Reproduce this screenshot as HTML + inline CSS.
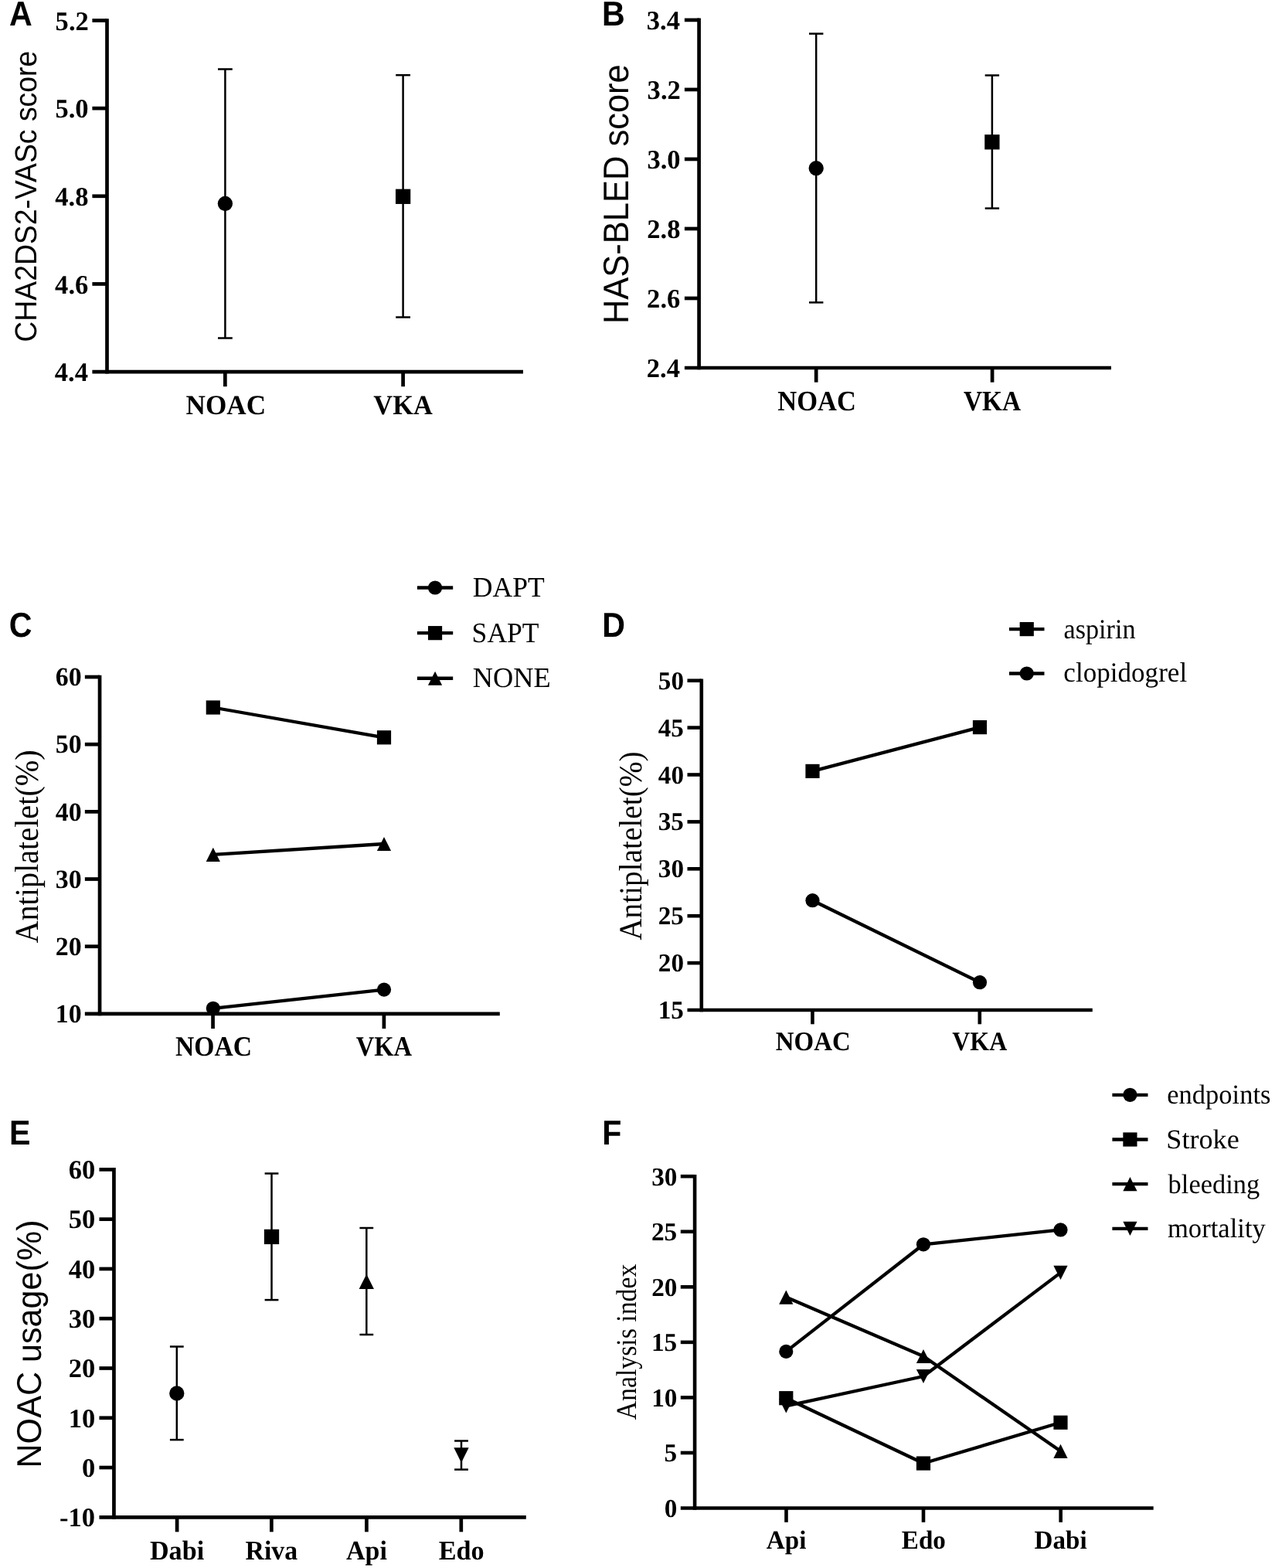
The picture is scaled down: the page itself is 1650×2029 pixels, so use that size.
<!DOCTYPE html>
<html lang="en">
<head>
<meta charset="utf-8">
<title>Figure: NOAC versus VKA scores, antiplatelet use and outcomes</title>
<style>
html,body{margin:0;padding:0;background:#fff;}
body{width:1650px;height:2029px;overflow:hidden;}
svg{display:block;}
text{fill:#000;}
.s{font-family:'Liberation Sans', sans-serif;}
.sb{font-family:'Liberation Sans', sans-serif;font-weight:bold;}
.f{font-family:'Liberation Serif', serif;}
.fb{font-family:'Liberation Serif', serif;font-weight:bold;}
.ax,.er,.ln{stroke:#000;fill:none;}
</style>
</head>
<body>
<svg width="1650" height="2029" viewBox="0 0 1650 2029" fill="#000" text-rendering="geometricPrecision">
<rect x="0" y="0" width="1650" height="2029" fill="#fff"/>
<text class="sb" font-size="44.7" transform="translate(12.11 32.7) scale(0.9220 1)">A</text>
<text class="sb" font-size="44.7" transform="translate(779.1 32.7) scale(0.9220 1)">B</text>
<text class="sb" font-size="44.7" transform="translate(11.7 823.8) scale(0.9220 1)">C</text>
<text class="sb" font-size="44.7" transform="translate(779.35 824) scale(0.9220 1)">D</text>
<text class="sb" font-size="44.7" transform="translate(12.03 1481.05) scale(0.9220 1)">E</text>
<text class="sb" font-size="44.7" transform="translate(779.36 1481.05) scale(0.9220 1)">F</text>
<g class="ax">
<line x1="138.5" y1="24.15" x2="138.5" y2="483.45" stroke-width="4.7"/>
<line x1="119.4" y1="481.1" x2="677" y2="481.1" stroke-width="4.7"/>
<line x1="119.4" y1="26.5" x2="138.5" y2="26.5" stroke-width="4.7"/>
<line x1="119.4" y1="140.15" x2="138.5" y2="140.15" stroke-width="4.7"/>
<line x1="119.4" y1="253.8" x2="138.5" y2="253.8" stroke-width="4.7"/>
<line x1="119.4" y1="367.45" x2="138.5" y2="367.45" stroke-width="4.7"/>
<line x1="291.35" y1="481.1" x2="291.35" y2="500.2" stroke-width="4.7"/>
<line x1="521.6" y1="481.1" x2="521.6" y2="500.2" stroke-width="4.7"/>
</g>
<text class="fb" font-size="34.6" transform="translate(71.61 38.58)">5.2</text>
<text class="fb" font-size="34.6" transform="translate(71.43 152.23)">5.0</text>
<text class="fb" font-size="34.6" transform="translate(71.26 265.88)">4.8</text>
<text class="fb" font-size="34.6" transform="translate(71.09 379.53)">4.6</text>
<text class="fb" font-size="34.6" transform="translate(70.74 493.18)">4.4</text>
<text class="fb" font-size="35.8" transform="translate(240.55 535.9) scale(0.9820 1)">NOAC</text>
<text class="fb" font-size="35.8" transform="translate(483.37 535.9) scale(0.9600 1)">VKA</text>
<g class="er">
<line x1="291.4" y1="89.5" x2="291.4" y2="437.5" stroke-width="2.5"/>
<line x1="282" y1="89.5" x2="300.8" y2="89.5" stroke-width="2.5"/>
<line x1="282" y1="437.5" x2="300.8" y2="437.5" stroke-width="2.5"/>
</g>
<circle cx="291.4" cy="263.5" r="9.65"/>
<g class="er">
<line x1="521.6" y1="97.2" x2="521.6" y2="410.5" stroke-width="2.5"/>
<line x1="512.2" y1="97.2" x2="531" y2="97.2" stroke-width="2.5"/>
<line x1="512.2" y1="410.5" x2="531" y2="410.5" stroke-width="2.5"/>
</g>
<rect x="511.95" y="244.65" width="19.3" height="19.3"/>
<text class="s" font-size="39.5" transform="translate(47.3 442.67) rotate(-90) scale(0.9450 1)">CHA2DS2-VASc score</text>
<g class="ax">
<line x1="904.6" y1="23.55" x2="904.6" y2="478.35" stroke-width="4.7"/>
<line x1="885.9" y1="476" x2="1438" y2="476" stroke-width="4.7"/>
<line x1="885.9" y1="25.9" x2="904.6" y2="25.9" stroke-width="4.7"/>
<line x1="885.9" y1="115.92" x2="904.6" y2="115.92" stroke-width="4.7"/>
<line x1="885.9" y1="205.94" x2="904.6" y2="205.94" stroke-width="4.7"/>
<line x1="885.9" y1="295.96" x2="904.6" y2="295.96" stroke-width="4.7"/>
<line x1="885.9" y1="385.98" x2="904.6" y2="385.98" stroke-width="4.7"/>
<line x1="1056.2" y1="476" x2="1056.2" y2="494.7" stroke-width="4.7"/>
<line x1="1284.1" y1="476" x2="1284.1" y2="494.7" stroke-width="4.7"/>
</g>
<text class="fb" font-size="34.6" transform="translate(836.74 37.73)">3.4</text>
<text class="fb" font-size="34.6" transform="translate(837.61 127.75)">3.2</text>
<text class="fb" font-size="34.6" transform="translate(837.43 217.77)">3.0</text>
<text class="fb" font-size="34.6" transform="translate(837.26 307.79)">2.8</text>
<text class="fb" font-size="34.6" transform="translate(837.09 397.81)">2.6</text>
<text class="fb" font-size="34.6" transform="translate(836.74 487.83)">2.4</text>
<text class="fb" font-size="36.5" transform="translate(1006.36 531.1) scale(0.9450 1)">NOAC</text>
<text class="fb" font-size="36.5" transform="translate(1246.95 531.1) scale(0.9150 1)">VKA</text>
<g class="er">
<line x1="1056.2" y1="43.6" x2="1056.2" y2="391.4" stroke-width="2.5"/>
<line x1="1047" y1="43.6" x2="1065.4" y2="43.6" stroke-width="2.5"/>
<line x1="1047" y1="391.4" x2="1065.4" y2="391.4" stroke-width="2.5"/>
</g>
<circle cx="1056.2" cy="217.7" r="9.65"/>
<g class="er">
<line x1="1283.9" y1="97.5" x2="1283.9" y2="269.6" stroke-width="2.5"/>
<line x1="1274.7" y1="97.5" x2="1293.1" y2="97.5" stroke-width="2.5"/>
<line x1="1274.7" y1="269.6" x2="1293.1" y2="269.6" stroke-width="2.5"/>
</g>
<rect x="1274.25" y="174.15" width="19.3" height="19.3"/>
<text class="s" font-size="46" transform="translate(812.9 419.08) rotate(-90) scale(0.9450 1)">HAS-BLED score</text>
<g class="ax">
<line x1="129.05" y1="873.65" x2="129.05" y2="1314.25" stroke-width="4.7"/>
<line x1="109.85" y1="1311.9" x2="646.8" y2="1311.9" stroke-width="4.7"/>
<line x1="109.85" y1="876" x2="129.05" y2="876" stroke-width="4.7"/>
<line x1="109.85" y1="963.18" x2="129.05" y2="963.18" stroke-width="4.7"/>
<line x1="109.85" y1="1050.36" x2="129.05" y2="1050.36" stroke-width="4.7"/>
<line x1="109.85" y1="1137.54" x2="129.05" y2="1137.54" stroke-width="4.7"/>
<line x1="109.85" y1="1224.72" x2="129.05" y2="1224.72" stroke-width="4.7"/>
<line x1="275.55" y1="1311.9" x2="275.55" y2="1331.1" stroke-width="4.7"/>
<line x1="496.9" y1="1311.9" x2="496.9" y2="1331.1" stroke-width="4.7"/>
</g>
<text class="fb" font-size="33.9" transform="translate(71.86 887.2)">60</text>
<text class="fb" font-size="33.9" transform="translate(71.86 974.38)">50</text>
<text class="fb" font-size="33.9" transform="translate(71.86 1061.56)">40</text>
<text class="fb" font-size="33.9" transform="translate(71.86 1148.74)">30</text>
<text class="fb" font-size="33.9" transform="translate(71.86 1235.92)">20</text>
<text class="fb" font-size="33.9" transform="translate(71.86 1323.1)">10</text>
<text class="fb" font-size="36.2" transform="translate(226.9 1366.1) scale(0.9300 1)">NOAC</text>
<text class="fb" font-size="36.2" transform="translate(460.65 1366.1) scale(0.9000 1)">VKA</text>
<g class="ln">
<line x1="275.8" y1="1105.8" x2="497" y2="1092" stroke-width="4.3"/>
</g>
<polygon points="275.8,1096.7 284.9,1114.9 266.7,1114.9"/>
<polygon points="497,1082.9 506.1,1101.1 487.9,1101.1"/>
<g class="ln">
<line x1="275.8" y1="1304.8" x2="497" y2="1280.6" stroke-width="4.3"/>
</g>
<circle cx="275.8" cy="1304.8" r="9.1"/>
<circle cx="497" cy="1280.6" r="9.1"/>
<g class="ln">
<line x1="275.8" y1="915.5" x2="497" y2="954.3" stroke-width="4.3"/>
</g>
<rect x="266.7" y="906.4" width="18.2" height="18.2"/>
<rect x="487.9" y="945.2" width="18.2" height="18.2"/>
<g class="ln">
<line x1="539.9" y1="760.5" x2="586.2" y2="760.5" stroke-width="4.3"/>
</g>
<circle cx="563.05" cy="760.5" r="9.1"/>
<text class="f" font-size="36.5" transform="translate(611.83 772.4) scale(0.9750 1)">DAPT</text>
<g class="ln">
<line x1="539.9" y1="819.15" x2="586.2" y2="819.15" stroke-width="4.3"/>
</g>
<rect x="553.95" y="810.05" width="18.2" height="18.2"/>
<text class="f" font-size="36.5" transform="translate(610.59 830.8) scale(0.9750 1)">SAPT</text>
<g class="ln">
<line x1="539.9" y1="877.75" x2="586.2" y2="877.75" stroke-width="4.3"/>
</g>
<polygon points="563.05,868.65 572.15,886.85 553.95,886.85"/>
<text class="f" font-size="36.5" transform="translate(611.81 889.4) scale(0.9950 1)">NONE</text>
<text class="f" font-size="43" transform="translate(48.6 1220.6) rotate(-90) scale(0.9360 1)">Antiplatelet(%)</text>
<g class="ax">
<line x1="907.8" y1="878.4" x2="907.8" y2="1309.3" stroke-width="4.6"/>
<line x1="889.5" y1="1307" x2="1413.8" y2="1307" stroke-width="4.6"/>
<line x1="889.5" y1="880.7" x2="907.8" y2="880.7" stroke-width="4.6"/>
<line x1="889.5" y1="941.6" x2="907.8" y2="941.6" stroke-width="4.6"/>
<line x1="889.5" y1="1002.5" x2="907.8" y2="1002.5" stroke-width="4.6"/>
<line x1="889.5" y1="1063.4" x2="907.8" y2="1063.4" stroke-width="4.6"/>
<line x1="889.5" y1="1124.3" x2="907.8" y2="1124.3" stroke-width="4.6"/>
<line x1="889.5" y1="1185.2" x2="907.8" y2="1185.2" stroke-width="4.6"/>
<line x1="889.5" y1="1246.1" x2="907.8" y2="1246.1" stroke-width="4.6"/>
<line x1="1051.45" y1="1307" x2="1051.45" y2="1325.3" stroke-width="4.6"/>
<line x1="1267.8" y1="1307" x2="1267.8" y2="1325.3" stroke-width="4.6"/>
</g>
<text class="fb" font-size="33.2" transform="translate(851.83 891.77)">50</text>
<text class="fb" font-size="33.2" transform="translate(851.66 952.67)">45</text>
<text class="fb" font-size="33.2" transform="translate(851.83 1013.57)">40</text>
<text class="fb" font-size="33.2" transform="translate(851.66 1074.47)">35</text>
<text class="fb" font-size="33.2" transform="translate(851.83 1135.37)">30</text>
<text class="fb" font-size="33.2" transform="translate(851.66 1196.27)">25</text>
<text class="fb" font-size="33.2" transform="translate(851.83 1257.17)">20</text>
<text class="fb" font-size="33.2" transform="translate(851.66 1318.07)">15</text>
<text class="fb" font-size="34.6" transform="translate(1003.85 1359) scale(0.9520 1)">NOAC</text>
<text class="fb" font-size="34.6" transform="translate(1232.31 1359) scale(0.9220 1)">VKA</text>
<g class="ln">
<line x1="1051.5" y1="997.9" x2="1268" y2="941.1" stroke-width="4.3"/>
</g>
<rect x="1042.4" y="988.8" width="18.2" height="18.2"/>
<rect x="1258.9" y="932" width="18.2" height="18.2"/>
<g class="ln">
<line x1="1051.5" y1="1165.2" x2="1268" y2="1271.2" stroke-width="4.3"/>
</g>
<circle cx="1051.5" cy="1165.2" r="9.1"/>
<circle cx="1268" cy="1271.2" r="9.1"/>
<g class="ln">
<line x1="1306" y1="814.1" x2="1351.5" y2="814.1" stroke-width="4.3"/>
</g>
<rect x="1319.65" y="805" width="18.2" height="18.2"/>
<text class="f" font-size="36" transform="translate(1376.5 825.7) scale(0.9500 1)">aspirin</text>
<g class="ln">
<line x1="1306" y1="871.5" x2="1351.5" y2="871.5" stroke-width="4.3"/>
</g>
<circle cx="1328.75" cy="871.5" r="9.1"/>
<text class="f" font-size="36" transform="translate(1376.3 882.4) scale(0.9750 1)">clopidogrel</text>
<text class="f" font-size="41.8" transform="translate(829.9 1216.79) rotate(-90) scale(0.9400 1)">Antiplatelet(%)</text>
<g class="ax">
<line x1="147.45" y1="1511.05" x2="147.45" y2="1965.65" stroke-width="4.7"/>
<line x1="128.45" y1="1963.3" x2="680.8" y2="1963.3" stroke-width="4.7"/>
<line x1="128.45" y1="1513.4" x2="147.45" y2="1513.4" stroke-width="4.7"/>
<line x1="128.45" y1="1577.67" x2="147.45" y2="1577.67" stroke-width="4.7"/>
<line x1="128.45" y1="1641.94" x2="147.45" y2="1641.94" stroke-width="4.7"/>
<line x1="128.45" y1="1706.21" x2="147.45" y2="1706.21" stroke-width="4.7"/>
<line x1="128.45" y1="1770.49" x2="147.45" y2="1770.49" stroke-width="4.7"/>
<line x1="128.45" y1="1834.76" x2="147.45" y2="1834.76" stroke-width="4.7"/>
<line x1="128.45" y1="1899.03" x2="147.45" y2="1899.03" stroke-width="4.7"/>
<line x1="229.1" y1="1963.3" x2="229.1" y2="1982.3" stroke-width="4.7"/>
<line x1="351.35" y1="1963.3" x2="351.35" y2="1982.3" stroke-width="4.7"/>
<line x1="474.4" y1="1963.3" x2="474.4" y2="1982.3" stroke-width="4.7"/>
<line x1="596.8" y1="1963.3" x2="596.8" y2="1982.3" stroke-width="4.7"/>
</g>
<text class="fb" font-size="34.5" transform="translate(88.68 1525.2)">60</text>
<text class="fb" font-size="34.5" transform="translate(88.68 1589.47)">50</text>
<text class="fb" font-size="34.5" transform="translate(88.68 1653.74)">40</text>
<text class="fb" font-size="34.5" transform="translate(88.68 1718.01)">30</text>
<text class="fb" font-size="34.5" transform="translate(88.68 1782.28)">20</text>
<text class="fb" font-size="34.5" transform="translate(88.68 1846.56)">10</text>
<text class="fb" font-size="34.5" transform="translate(105.93 1910.83)">0</text>
<text class="fb" font-size="34.5" transform="translate(77.12 1975.1)">-10</text>
<text class="fb" font-size="35.2" transform="translate(193.93 2018.2) scale(0.9700 1)">Dabi</text>
<text class="fb" font-size="35.2" transform="translate(317.56 2018.2) scale(0.9600 1)">Riva</text>
<text class="fb" font-size="35.2" transform="translate(448.07 2018.2) scale(0.9650 1)">Api</text>
<text class="fb" font-size="35.2" transform="translate(567.72 2018.2) scale(0.9720 1)">Edo</text>
<g class="er">
<line x1="228.8" y1="1742.5" x2="228.8" y2="1863.1" stroke-width="2.5"/>
<line x1="219.9" y1="1742.5" x2="237.7" y2="1742.5" stroke-width="2.5"/>
<line x1="219.9" y1="1863.1" x2="237.7" y2="1863.1" stroke-width="2.5"/>
</g>
<circle cx="228.8" cy="1803" r="9.65"/>
<g class="er">
<line x1="351.5" y1="1518.5" x2="351.5" y2="1682.1" stroke-width="2.5"/>
<line x1="342.6" y1="1518.5" x2="360.4" y2="1518.5" stroke-width="2.5"/>
<line x1="342.6" y1="1682.1" x2="360.4" y2="1682.1" stroke-width="2.5"/>
</g>
<rect x="341.85" y="1590.75" width="19.3" height="19.3"/>
<g class="er">
<line x1="474.3" y1="1589" x2="474.3" y2="1727" stroke-width="2.5"/>
<line x1="465.4" y1="1589" x2="483.2" y2="1589" stroke-width="2.5"/>
<line x1="465.4" y1="1727" x2="483.2" y2="1727" stroke-width="2.5"/>
</g>
<polygon points="474.3,1648.65 483.95,1667.95 464.65,1667.95"/>
<g class="er">
<line x1="597" y1="1864.5" x2="597" y2="1901.6" stroke-width="2.5"/>
<line x1="588.1" y1="1864.5" x2="605.9" y2="1864.5" stroke-width="2.5"/>
<line x1="588.1" y1="1901.6" x2="605.9" y2="1901.6" stroke-width="2.5"/>
</g>
<polygon points="587.35,1873.35 606.65,1873.35 597,1892.65"/>
<text class="s" font-size="44.5" transform="translate(52.5 1899.55) rotate(-90) scale(0.9690 1)">NOAC usage(%)</text>
<g class="ax">
<line x1="899.1" y1="1519.9" x2="899.1" y2="1953.8" stroke-width="4.6"/>
<line x1="880.8" y1="1951.5" x2="1492.7" y2="1951.5" stroke-width="4.6"/>
<line x1="880.8" y1="1522.2" x2="899.1" y2="1522.2" stroke-width="4.6"/>
<line x1="880.8" y1="1593.75" x2="899.1" y2="1593.75" stroke-width="4.6"/>
<line x1="880.8" y1="1665.3" x2="899.1" y2="1665.3" stroke-width="4.6"/>
<line x1="880.8" y1="1736.85" x2="899.1" y2="1736.85" stroke-width="4.6"/>
<line x1="880.8" y1="1808.4" x2="899.1" y2="1808.4" stroke-width="4.6"/>
<line x1="880.8" y1="1879.95" x2="899.1" y2="1879.95" stroke-width="4.6"/>
<line x1="1017.5" y1="1951.5" x2="1017.5" y2="1969.8" stroke-width="4.6"/>
<line x1="1195" y1="1951.5" x2="1195" y2="1969.8" stroke-width="4.6"/>
<line x1="1372.7" y1="1951.5" x2="1372.7" y2="1969.8" stroke-width="4.6"/>
</g>
<text class="fb" font-size="33.3" transform="translate(843.13 1533.61)">30</text>
<text class="fb" font-size="33.3" transform="translate(842.97 1605.16)">25</text>
<text class="fb" font-size="33.3" transform="translate(843.13 1676.71)">20</text>
<text class="fb" font-size="33.3" transform="translate(842.97 1748.26)">15</text>
<text class="fb" font-size="33.3" transform="translate(843.13 1819.81)">10</text>
<text class="fb" font-size="33.3" transform="translate(859.62 1891.36)">5</text>
<text class="fb" font-size="33.3" transform="translate(859.78 1962.91)">0</text>
<text class="fb" font-size="34" transform="translate(991.81 2003.6) scale(0.9750 1)">Api</text>
<text class="fb" font-size="34" transform="translate(1166.82 2003.6) scale(0.9750 1)">Edo</text>
<text class="fb" font-size="34" transform="translate(1338.56 2003.6) scale(0.9750 1)">Dabi</text>
<g class="ln">
<line x1="1017.3" y1="1678.6" x2="1195" y2="1755" stroke-width="4.3"/>
<line x1="1195" y1="1755" x2="1372.5" y2="1877.8" stroke-width="4.3"/>
</g>
<polygon points="1017.3,1669.5 1026.4,1687.7 1008.2,1687.7"/>
<polygon points="1195,1745.9 1204.1,1764.1 1185.9,1764.1"/>
<polygon points="1372.5,1868.7 1381.6,1886.9 1363.4,1886.9"/>
<g class="ln">
<line x1="1017.3" y1="1819.45" x2="1195" y2="1781" stroke-width="4.3"/>
<line x1="1195" y1="1781" x2="1372.5" y2="1646.85" stroke-width="4.3"/>
</g>
<polygon points="1008.2,1810.35 1026.4,1810.35 1017.3,1828.55"/>
<polygon points="1185.9,1771.9 1204.1,1771.9 1195,1790.1"/>
<polygon points="1363.4,1637.75 1381.6,1637.75 1372.5,1655.95"/>
<g class="ln">
<line x1="1017.3" y1="1809.2" x2="1195" y2="1893.55" stroke-width="4.3"/>
<line x1="1195" y1="1893.55" x2="1372.5" y2="1840.75" stroke-width="4.3"/>
</g>
<rect x="1008.2" y="1800.1" width="18.2" height="18.2"/>
<rect x="1185.9" y="1884.45" width="18.2" height="18.2"/>
<rect x="1363.4" y="1831.65" width="18.2" height="18.2"/>
<g class="ln">
<line x1="1017.3" y1="1748.9" x2="1195" y2="1610.3" stroke-width="4.3"/>
<line x1="1195" y1="1610.3" x2="1372.5" y2="1591.45" stroke-width="4.3"/>
</g>
<circle cx="1017.3" cy="1748.9" r="9.1"/>
<circle cx="1195" cy="1610.3" r="9.1"/>
<circle cx="1372.5" cy="1591.45" r="9.1"/>
<g class="ln">
<line x1="1439.4" y1="1416.8" x2="1485.5" y2="1416.8" stroke-width="4.3"/>
</g>
<circle cx="1462.45" cy="1416.8" r="9.1"/>
<text class="f" font-size="35.5" transform="translate(1510.22 1427.9) scale(0.9720 1)">endpoints</text>
<g class="ln">
<line x1="1439.4" y1="1474.5" x2="1485.5" y2="1474.5" stroke-width="4.3"/>
</g>
<rect x="1453.35" y="1465.4" width="18.2" height="18.2"/>
<text class="f" font-size="35.5" transform="translate(1509.25 1486) scale(1.0200 1)">Stroke</text>
<g class="ln">
<line x1="1439.4" y1="1532.2" x2="1485.5" y2="1532.2" stroke-width="4.3"/>
</g>
<polygon points="1462.45,1523.1 1471.55,1541.3 1453.35,1541.3"/>
<text class="f" font-size="35.5" transform="translate(1511.6 1543.5) scale(0.9700 1)">bleeding</text>
<g class="ln">
<line x1="1439.4" y1="1589.9" x2="1485.5" y2="1589.9" stroke-width="4.3"/>
</g>
<polygon points="1453.35,1580.8 1471.55,1580.8 1462.45,1599"/>
<text class="f" font-size="35.5" transform="translate(1510.91 1601.3) scale(0.9750 1)">mortality</text>
<text class="f" font-size="37" transform="translate(822.6 1837.34) rotate(-90) scale(0.9130 1)">Analysis index</text>
</svg>
</body>
</html>
